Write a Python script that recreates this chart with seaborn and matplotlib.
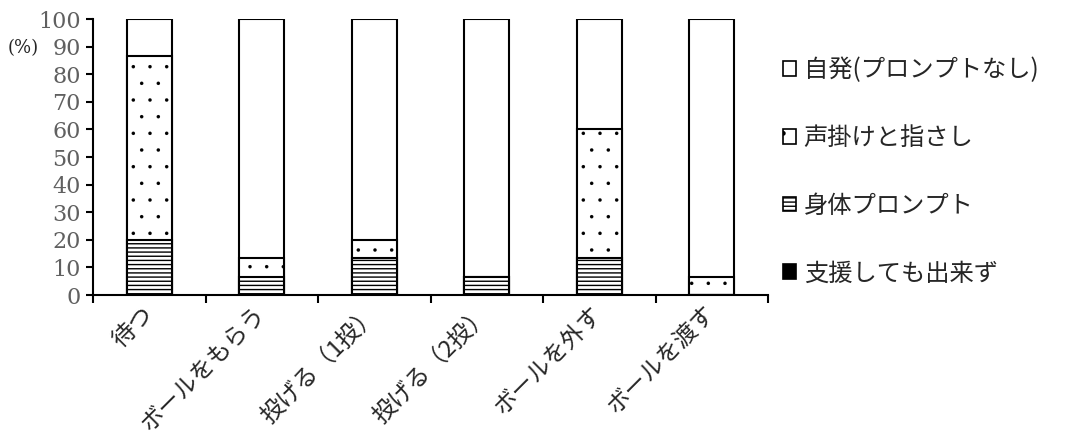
import numpy as np
import matplotlib
matplotlib.use("Agg")
import matplotlib.pyplot as plt
from matplotlib.patches import Patch
import seaborn as sns

categories = ["待つ", "ボールをもらう", "投げる（1投）", "投げる（2投）", "ボールを外す", "ボールを渡す"]
series_names = ["支援しても出来ず", "身体プロンプト", "声掛けと指さし", "自発(プロンプトなし)"]
fail = [0, 0, 0, 0, 0, 0]
physical = [20.0, 6.7, 13.3, 6.7, 13.3, 0.0]
verbal = [66.7, 6.7, 6.7, 0.0, 46.7, 6.7]
spontaneous = [13.3, 86.6, 80.0, 93.3, 40.0, 93.3]
yticks = list(range(0, 101, 10))

sns.set_theme(style="white")
plt.rcParams['font.family'] = ['Noto Sans CJK JP', 'DejaVu Sans']
plt.rcParams['hatch.color'] = 'black'

fig = plt.figure(figsize=(10.69, 4.45), dpi=100)
ax = fig.add_axes([93/1069, 1-295/445, (768-93)/1069, (295-19)/445])

layers = [fail, physical, verbal, spontaneous]
cum = np.cumsum(np.array(layers, dtype=float), axis=0)
styles = [("black", "", 1.0), ("white", "----", 1.0), ("white", ".", 0.1), ("white", "", 1.0)]

# draw from top layer down so shorter stacks overlay taller ones
for idx in [3, 2, 1, 0]:
    plt.rcParams['hatch.linewidth'] = styles[idx][2]
    n_before = len(ax.patches)
    sns.barplot(x=categories, y=cum[idx], color=styles[idx][0], saturation=1,
                edgecolor="black", linewidth=1.5, width=0.4, ax=ax, errorbar=None)
    for p in ax.patches[n_before:]:
        p.set_facecolor(styles[idx][0])
        p.set_hatch(styles[idx][1])
        p.set_edgecolor("black")
        if hasattr(p, "set_hatch_linewidth"):
            p.set_hatch_linewidth(styles[idx][2])

ax.set_xlim(-0.5, len(categories) - 0.5)
ax.set_ylim(0, 100)
ax.set_yticks(yticks)
ax.set_yticklabels([str(v) for v in yticks], family="DejaVu Serif", fontsize=16, color="#606060")
ax.tick_params(axis="y", direction="out", length=5, width=1.5, color="black", left=True, pad=4)

ax.set_xticks(range(len(categories)))
ax.set_xticklabels(categories, rotation=45, ha="right", va="center", rotation_mode="anchor", fontsize=17)
ax.tick_params(axis="x", which="major", length=0, pad=11)
ax.set_xticks(np.arange(-0.5, len(categories), 1.0), minor=True)
ax.tick_params(axis="x", which="minor", direction="out", length=6, width=1.5, color="black", bottom=True)

for s in ["top", "right"]:
    ax.spines[s].set_visible(False)
for s in ["left", "bottom"]:
    ax.spines[s].set_color("black")
    ax.spines[s].set_linewidth(1.5)
ax.set_xlabel("")
ax.set_ylabel("")
ax.grid(False)

fig.text(8/1069, 1-48/445, "(%)", fontsize=13, family="DejaVu Serif", va="center", ha="left")

handles = []
for i in [3, 2, 1, 0]:
    plt.rcParams['hatch.linewidth'] = styles[i][2] if styles[i][1] != "." else 0.8
    h = Patch(facecolor=styles[i][0], edgecolor="black", hatch=styles[i][1], linewidth=1.2)
    handles.append(h)
labels = [series_names[i] for i in [3, 2, 1, 0]]
fig.legend(handles, labels, loc="upper left", bbox_to_anchor=(783/1069, 1-57/445),
           frameon=False, fontsize=17.5, handlelength=0.55, handleheight=0.55,
           handletextpad=0.3, labelspacing=1.72, borderaxespad=0, borderpad=0)

fig.savefig("out.png", dpi=100)
